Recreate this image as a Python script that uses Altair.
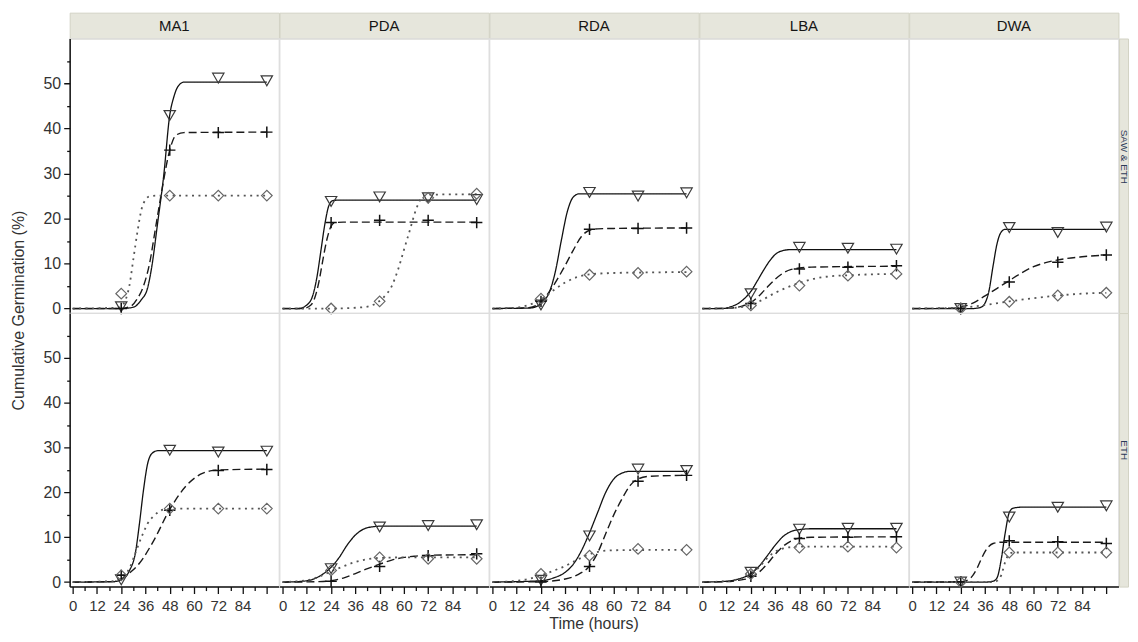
import altair as alt
import pandas as pd

FONT = "Liberation Sans"
MEDIA = ["MA1", "PDA", "RDA", "LBA", "DWA"]
TREATMENTS = ["SAW & ETH", "ETH"]
TREAT_KEYS = ["SE", "ETH"]
SERIES = ["A", "B", "C"]          # A: solid / triangle, B: dashed / plus, C: dotted / diamond
OBS_TIMES = [24, 48, 72, 96]
X_TICKS = list(range(0, 97, 6))
Y_TICKS = list(range(0, 60, 5))
Y_TITLE = "Cumulative Germination (%)"
X_TITLE = "Time (hours)"

# ---------------- observed values (markers) at 24, 48, 72, 96 h ----------------
SE_MA1_A_OBS = [0.4, 42.9, 51.2, 50.6]
SE_MA1_B_OBS = [0.0, 35.2, 39.1, 39.2]
SE_MA1_C_OBS = [3.3, 25.1, 25.1, 25.1]
SE_PDA_A_OBS = [23.8, 24.8, 24.6, 24.2]
SE_PDA_B_OBS = [19.1, 19.6, 19.6, 19.1]
SE_PDA_C_OBS = [0.0, 1.6, 24.6, 25.5]
SE_RDA_A_OBS = [0.8, 25.8, 25.0, 25.7]
SE_RDA_B_OBS = [1.6, 17.6, 17.8, 17.9]
SE_RDA_C_OBS = [2.2, 7.5, 7.9, 8.2]
SE_LBA_A_OBS = [3.3, 13.6, 13.4, 13.2]
SE_LBA_B_OBS = [1.1, 8.8, 9.2, 9.5]
SE_LBA_C_OBS = [0.7, 5.1, 7.3, 7.7]
SE_DWA_A_OBS = [0.0, 18.0, 16.9, 18.1]
SE_DWA_B_OBS = [0.0, 5.9, 10.3, 11.9]
SE_DWA_C_OBS = [0.0, 1.5, 2.9, 3.5]

ETH_MA1_A_OBS = [0.5, 29.4, 29.0, 29.2]
ETH_MA1_B_OBS = [1.5, 16.0, 24.9, 25.1]
ETH_MA1_C_OBS = [1.5, 16.4, 16.4, 16.4]
ETH_PDA_A_OBS = [3.0, 12.3, 12.6, 12.8]
ETH_PDA_B_OBS = [0.2, 3.5, 5.9, 6.3]
ETH_PDA_C_OBS = [2.6, 5.5, 5.2, 5.2]
ETH_RDA_A_OBS = [0.4, 10.3, 25.2, 24.9]
ETH_RDA_B_OBS = [0.0, 3.5, 22.5, 23.8]
ETH_RDA_C_OBS = [1.8, 5.9, 7.4, 7.2]
ETH_LBA_A_OBS = [2.2, 11.8, 12.0, 12.0]
ETH_LBA_B_OBS = [1.3, 9.7, 10.0, 10.1]
ETH_LBA_C_OBS = [1.8, 7.7, 7.9, 7.7]
ETH_DWA_A_OBS = [0.0, 14.5, 16.7, 17.0]
ETH_DWA_B_OBS = [0.1, 9.2, 9.0, 8.6]
ETH_DWA_C_OBS = [0.0, 6.6, 6.6, 6.6]

# ---------------- fitted curves (time h, value %) ----------------
SE_MA1_A_T = [0, 24, 30, 34, 37, 39, 42, 45, 48, 50, 52, 55, 96]
SE_MA1_A_Y = [0, 0, 0.3, 2, 4.5, 9, 19, 29.5, 43, 47, 49.3, 50.3, 50.3]
SE_MA1_B_T = [0, 24, 29, 32, 35, 38, 41, 44, 48, 51, 55, 96]
SE_MA1_B_Y = [0, 0, 0.6, 2.2, 5, 10, 18, 26, 35.2, 38.5, 39.1, 39.2]
SE_MA1_C_T = [0, 22, 24, 26, 28, 30, 32, 34, 36, 38, 42, 96]
SE_MA1_C_Y = [0, 0.2, 0.5, 1.8, 5, 11, 17, 22, 24.2, 24.9, 25.1, 25.1]

SE_PDA_A_T = [0, 8, 12, 15, 17, 19, 21, 23, 25, 28, 96]
SE_PDA_A_Y = [0, 0, 0.8, 3, 7, 13, 19, 23, 24, 24.1, 24.1]
SE_PDA_B_T = [0, 10, 14, 16, 18, 20, 22, 24, 26, 30, 96]
SE_PDA_B_Y = [0, 0, 0.8, 2.5, 6, 11, 15.5, 18.3, 19.1, 19.2, 19.2]
SE_PDA_C_T = [0, 24, 40, 46, 50, 54, 57, 60, 63, 66, 69, 72, 96]
SE_PDA_C_Y = [0, 0, 0.3, 1.1, 2.5, 5, 8.5, 13, 17.5, 22, 24.7, 25.3, 25.4]

SE_RDA_A_T = [0, 18, 22, 25, 28, 31, 34, 37, 40, 43, 96]
SE_RDA_A_Y = [0, 0.1, 0.5, 1.5, 3.5, 8, 15, 21.5, 24.8, 25.5, 25.5]
SE_RDA_B_T = [0, 18, 22, 25, 30, 35, 40, 44, 48, 52, 60, 96]
SE_RDA_B_Y = [0, 0.2, 0.8, 2, 5, 8.8, 13, 16, 17.4, 17.7, 17.8, 17.9]
SE_RDA_C_T = [0, 12, 18, 24, 30, 36, 42, 48, 60, 72, 96]
SE_RDA_C_Y = [0, 0.2, 0.8, 2, 4, 5.8, 7, 7.6, 7.9, 8, 8.1]

SE_LBA_A_T = [0, 10, 14, 18, 21, 24, 27, 30, 33, 36, 40, 44, 96]
SE_LBA_A_Y = [0, 0, 0.4, 1.2, 2.3, 3.8, 6, 8.3, 10.4, 12, 12.9, 13.1, 13.1]
SE_LBA_B_T = [0, 14, 20, 24, 28, 32, 36, 40, 44, 48, 54, 96]
SE_LBA_B_Y = [0, 0.1, 0.6, 1.3, 2.8, 4.7, 6.5, 7.9, 8.7, 9.0, 9.2, 9.4]
SE_LBA_C_T = [0, 14, 20, 24, 30, 36, 42, 48, 54, 60, 72, 84, 96]
SE_LBA_C_Y = [0, 0.1, 0.4, 0.8, 2, 3.5, 4.7, 5.7, 6.5, 7.0, 7.4, 7.6, 7.7]

SE_DWA_A_T = [0, 30, 34, 36, 38, 40, 42, 44, 46, 96]
SE_DWA_A_Y = [0, 0, 0.3, 1.2, 4, 9.5, 14.5, 17, 17.6, 17.6]
SE_DWA_B_T = [0, 20, 24, 30, 36, 42, 48, 54, 60, 66, 72, 84, 96]
SE_DWA_B_Y = [0, 0.1, 0.3, 1.2, 2.8, 4.5, 6.2, 7.9, 9.3, 10.2, 10.8, 11.5, 11.9]
SE_DWA_C_T = [0, 24, 36, 48, 60, 72, 84, 96]
SE_DWA_C_Y = [0, 0.2, 0.8, 1.6, 2.3, 2.9, 3.3, 3.5]

ETH_MA1_A_T = [0, 20, 24, 28, 31, 33, 35, 37, 39, 42, 96]
ETH_MA1_A_Y = [0, 0.1, 0.5, 2.5, 6.5, 13, 20.5, 26.3, 28.6, 29.3, 29.3]
ETH_MA1_B_T = [0, 20, 24, 28, 33, 40, 48, 56, 63, 68, 72, 96]
ETH_MA1_B_Y = [0, 0.1, 0.7, 2, 4.2, 9.2, 16.2, 21.4, 24, 24.8, 25, 25.2]
ETH_MA1_C_T = [0, 20, 24, 28, 31, 34, 37, 40, 43, 46, 50, 96]
ETH_MA1_C_Y = [0, 0.2, 1, 3, 6.5, 10, 13, 14.7, 15.8, 16.3, 16.4, 16.4]

ETH_PDA_A_T = [0, 10, 16, 20, 24, 28, 32, 36, 40, 44, 50, 96]
ETH_PDA_A_Y = [0, 0.2, 0.8, 1.8, 3.3, 5.5, 8.3, 10.5, 11.8, 12.3, 12.5, 12.5]
ETH_PDA_B_T = [0, 18, 24, 30, 36, 42, 48, 54, 60, 66, 72, 96]
ETH_PDA_B_Y = [0, 0.1, 0.3, 0.9, 1.9, 3.0, 4.0, 4.9, 5.5, 5.8, 6.0, 6.1]
ETH_PDA_C_T = [0, 12, 18, 24, 30, 36, 42, 48, 60, 96]
ETH_PDA_C_Y = [0, 0.4, 1.2, 2.4, 3.5, 4.5, 5.1, 5.4, 5.5, 5.5]

ETH_RDA_A_T = [0, 24, 30, 36, 40, 44, 48, 52, 56, 60, 64, 68, 96]
ETH_RDA_A_Y = [0, 0.3, 0.9, 2.2, 4, 7, 11, 15.5, 20, 23, 24.3, 24.7, 24.7]
ETH_RDA_B_T = [0, 24, 36, 42, 48, 52, 56, 60, 64, 68, 72, 78, 96]
ETH_RDA_B_Y = [0, 0.1, 0.7, 1.6, 3.6, 6.5, 10.8, 15, 18.5, 21.5, 23, 23.6, 23.8]
ETH_RDA_C_T = [0, 12, 18, 24, 30, 36, 42, 48, 54, 60, 96]
ETH_RDA_C_Y = [0, 0.3, 0.7, 1.5, 2.5, 3.6, 5.0, 6.2, 6.9, 7.1, 7.2]

ETH_LBA_A_T = [0, 12, 18, 24, 28, 32, 36, 40, 44, 48, 54, 96]
ETH_LBA_A_Y = [0, 0.2, 0.7, 1.9, 3.5, 5.8, 8.2, 10.2, 11.3, 11.7, 11.9, 11.9]
ETH_LBA_B_T = [0, 12, 18, 24, 28, 32, 36, 40, 44, 48, 54, 96]
ETH_LBA_B_Y = [0, 0.1, 0.4, 1.0, 2.2, 4.0, 6.2, 8.0, 9.2, 9.8, 10.0, 10.1]
ETH_LBA_C_T = [0, 12, 18, 24, 28, 32, 36, 40, 44, 48, 96]
ETH_LBA_C_Y = [0, 0.2, 0.7, 1.6, 3.3, 5.3, 6.8, 7.5, 7.8, 7.9, 7.9]

ETH_DWA_A_T = [0, 36, 40, 42, 44, 46, 48, 50, 54, 96]
ETH_DWA_A_Y = [0, 0, 0.2, 1, 5, 11, 15.5, 16.5, 16.7, 16.7]
ETH_DWA_B_T = [0, 24, 28, 30, 32, 34, 36, 38, 40, 44, 96]
ETH_DWA_B_Y = [0, 0.1, 0.6, 1.5, 3, 5, 6.8, 8, 8.6, 8.9, 8.9]
ETH_DWA_C_T = [0, 40, 42, 44, 46, 48, 50, 96]
ETH_DWA_C_Y = [0, 0, 0.3, 1.5, 4.5, 6.3, 6.6, 6.6]

# ---------------- build long tables ----------------
curve_rows, obs_rows = [], []
g = globals()
for tk, treat in zip(TREAT_KEYS, TREATMENTS):
    for med in MEDIA:
        for s in SERIES:
            ts, ys = g[f"{tk}_{med}_{s}_T"], g[f"{tk}_{med}_{s}_Y"]
            for i, (t, y) in enumerate(zip(ts, ys)):
                curve_rows.append(dict(treatment=treat, medium=med, series=s, t=t, y=y, o=i))
            for t, y in zip(OBS_TIMES, g[f"{tk}_{med}_{s}_OBS"]):
                obs_rows.append(dict(treatment=treat, medium=med, series=s, t=t, y=y))
curves = pd.DataFrame(curve_rows)
obs = pd.DataFrame(obs_rows)

# ---------------- styling ----------------
PW = 210.4
LEFT_W = 61
ROW_H = [276, 275]
HEAD_H = 26
FOOT_H = 40
STRIP_W = 9
STRIP_FILL = "#e6e6dc"
STRIP_STROKE = "#d3d3c5"

XS = alt.Scale(domain=[-1.5, 102], nice=False, zero=False)
YS = alt.Scale(domain=[-1, 60], nice=False, zero=False)

LINE_STYLE = {
    "A": dict(strokeDash=[1, 0], color="#111111", strokeWidth=1.3),
    "B": dict(strokeDash=[8, 4], color="#1a1a1a", strokeWidth=1.4),
    "C": dict(strokeDash=[2, 4.5], color="#555555", strokeWidth=1.8),
}
MARK_STYLE = {
    "A": dict(shape="triangle-down", size=130, color="#3a3a3a", strokeWidth=1.2),
    "B": dict(shape="M-1,0L1,0M0,-1L0,1", size=130, color="#111111", strokeWidth=1.5),
    "C": dict(shape="diamond", size=115, color="#666666", strokeWidth=1.2),
}

X_AXIS = alt.Axis(
    values=X_TICKS, title=None, grid=False, labelOverlap=False, labelFlush=False,
    labelExpr="datum.value % 12 === 0 && datum.value < 96 ? datum.label : ''",
    tickSize=7, tickDash={"condition": {"test": "datum.value % 12 === 0", "value": [1, 0]}, "value": [4, 20]},
    domainColor="#111", tickColor="#111", domainWidth=1.5, tickWidth=1.3,
    labelFont=FONT, labelFontSize=15, labelColor="#333", labelPadding=5,
)
Y_AXIS = alt.Axis(
    values=Y_TICKS, title=None, grid=False, labelOverlap=False,
    labelExpr="datum.value % 10 === 0 ? datum.label : ''",
    tickSize=6, tickDash={"condition": {"test": "datum.value % 10 === 0", "value": [1, 0]}, "value": [3, 20]},
    domainColor="#111", tickColor="#111", domainWidth=1.5, tickWidth=1.3,
    labelFont=FONT, labelFontSize=16, labelColor="#333", labelPadding=3,
)


def panel(ti, mi):
    treat, med = TREATMENTS[ti], MEDIA[mi]
    xa = X_AXIS if ti == 1 else None
    ya = Y_AXIS if mi == 0 else None
    layers = []
    for s in SERIES:
        d = curves[(curves.treatment == treat) & (curves.medium == med) & (curves.series == s)]
        layers.append(
            alt.Chart(d).mark_line(interpolate="monotone", **LINE_STYLE[s]).encode(
                x=alt.X("t:Q", scale=XS, axis=xa),
                y=alt.Y("y:Q", scale=YS, axis=ya),
                order="o:Q",
            )
        )
    for s in SERIES:
        d = obs[(obs.treatment == treat) & (obs.medium == med) & (obs.series == s)]
        layers.append(
            alt.Chart(d).mark_point(filled=False, opacity=1, **MARK_STYLE[s]).encode(
                x=alt.X("t:Q", scale=XS, axis=xa),
                y=alt.Y("y:Q", scale=YS, axis=ya),
            )
        )
    return alt.layer(*layers).properties(
        width=PW, height=ROW_H[ti], view=alt.ViewBackground(stroke="#dddddd", strokeWidth=1.2)
    )


def text_cell(label, w, h, x, y, fill=None, stroke="transparent", **mark_kw):
    view = alt.ViewBackground(fill=fill, stroke=stroke) if fill else alt.ViewBackground(stroke=stroke)
    return alt.Chart(pd.DataFrame({"label": [label]})).mark_text(font=FONT, **mark_kw).encode(
        text="label:N", x=alt.value(x), y=alt.value(y)
    ).properties(width=w, height=h, view=view)


def blank(w, h, fill=None):
    view = alt.ViewBackground(fill=fill, stroke="transparent") if fill else alt.ViewBackground(stroke="transparent")
    return alt.Chart(pd.DataFrame({"v": [0]})).mark_point(opacity=0, size=0).encode(
        x=alt.value(1), y=alt.value(1)
    ).properties(width=w, height=h, view=view)


def header(med):
    return text_cell(med, PW, HEAD_H, PW / 2, 13.5, fill=STRIP_FILL, stroke=STRIP_STROKE,
                     fontSize=15, color="#151515", align="center", baseline="middle")


def strip(ti, yc):
    return text_cell(TREATMENTS[ti], STRIP_W, ROW_H[ti], 5, yc, fill=STRIP_FILL, stroke=STRIP_STROKE,
                     fontSize=10, color="#2b3a58", angle=90, align="center", baseline="middle")


cells = []
# row 0: headers
cells.append(blank(LEFT_W, HEAD_H, fill="white"))
cells += [header(m) for m in MEDIA]
cells.append(blank(STRIP_W, HEAD_H))
# row 1: SAW & ETH panels (the y title sits at the join of the two rows)
cells.append(text_cell(Y_TITLE, LEFT_W, ROW_H[0], 10, 273.5, fontSize=16, color="#333",
                       angle=270, align="center", baseline="middle"))
cells += [panel(0, i) for i in range(5)]
cells.append(strip(0, 119))
# row 2: ETH panels
cells.append(blank(LEFT_W, ROW_H[1]))
cells += [panel(1, i) for i in range(5)]
cells.append(strip(1, 138))
# row 3: x title under the middle column
cells.append(blank(LEFT_W, FOOT_H))
for i in range(5):
    if i == 2:
        cells.append(text_cell(X_TITLE, PW, FOOT_H, PW / 2, 38, fontSize=16, color="#333",
                               align="center", baseline="middle"))
    else:
        cells.append(blank(PW, FOOT_H))
cells.append(blank(STRIP_W, FOOT_H))

chart = alt.concat(*cells, columns=7, spacing=0, bounds="flush", align="each").properties(
    padding={"left": 0, "top": 2, "right": 0, "bottom": 0}
).configure(font=FONT, background="white")

chart.save("out.html", embed_options={"renderer": "svg", "actions": False})
